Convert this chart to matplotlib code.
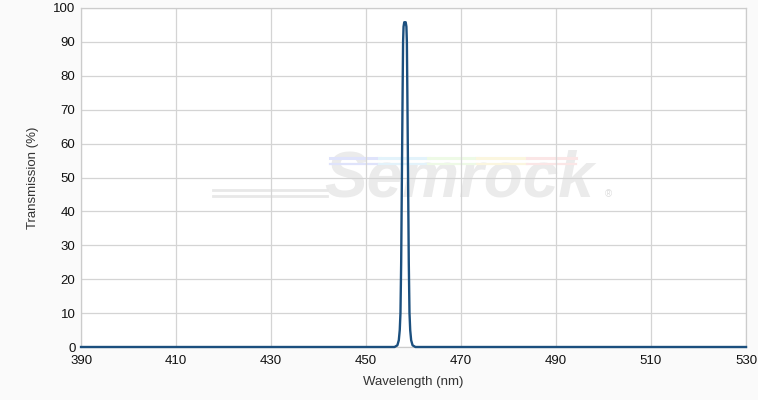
import matplotlib
matplotlib.use("Agg")
import matplotlib.pyplot as plt

plt.rcParams['font.family'] = ['Liberation Sans', 'DejaVu Sans']

# Transmission spectrum
wavelength = [390, 456.0, 456.6, 456.9, 457.1, 457.25, 457.4, 457.55, 457.7, 457.8, 457.9,
              458.05, 458.35, 458.5, 458.6, 458.7, 458.85, 459.0, 459.15, 459.3, 459.5,
              459.8, 460.4, 530]
transmission = [0, 0, 0.5, 2, 5, 10, 25, 50, 75, 90, 94.5,
                95.8, 95.8, 94.5, 90, 75, 50, 25, 10, 5, 2,
                0.5, 0, 0]

x_ticks = [390, 410, 430, 450, 470, 490, 510, 530]
y_ticks = [0, 10, 20, 30, 40, 50, 60, 70, 80, 90, 100]

fig = plt.figure(figsize=(7.58, 4.0), dpi=100)
fig.patch.set_facecolor('#fafafa')
ax = fig.add_axes([0.1069, 0.1325, 0.8773, 0.8475])
ax.set_facecolor('white')

# faint watermark
ax.text(0.568, 0.494, 'Semrock', transform=ax.transAxes, fontsize=46,
        fontweight='bold', style='italic', color='#ebebeb', ha='center',
        va='center', zorder=0)
ax.text(0.793, 0.45, '®', transform=ax.transAxes, fontsize=7,
        color='#dddddd', ha='center', va='center', zorder=0)
ax.plot([0.198, 0.37], [0.463, 0.463], transform=ax.transAxes, color='#e8e8e8', lw=2, zorder=0)
ax.plot([0.198, 0.37], [0.445, 0.445], transform=ax.transAxes, color='#e8e8e8', lw=2, zorder=0)
rainbow = ['#dfe3fb', '#e3f3fb', '#eefae6', '#fbf6df', '#fbe6e6']
for i, c in enumerate(rainbow):
    x0 = 0.374 + i * 0.074
    ax.plot([x0, x0 + 0.074], [0.557, 0.557], transform=ax.transAxes, color=c, lw=2.2, zorder=0)
    ax.plot([x0, x0 + 0.074], [0.541, 0.541], transform=ax.transAxes, color=c, lw=1.6, zorder=0)

ax.plot(wavelength, transmission, color='#1b4f7e', lw=1.7, zorder=3, clip_on=False)

ax.set_xlim(390, 530)
ax.set_ylim(0, 100)
ax.set_xticks(x_ticks)
ax.set_yticks(y_ticks)
ax.grid(True, color='#d4d4d4', lw=0.9)
ax.set_axisbelow(True)
for s in ax.spines.values():
    s.set_color('#cccccc')
    s.set_linewidth(0.9)
ax.tick_params(length=0, labelsize=9.5, labelcolor='#111111')
ax.tick_params(axis='x', pad=6)
ax.tick_params(axis='y', pad=4)

ax.set_xlabel('Wavelength (nm)', fontsize=9.5, color='#333333', labelpad=6)
ax.set_ylabel('Transmission (%)', fontsize=9.5, color='#333333', labelpad=10)

fig.savefig('out.png', dpi=100, facecolor=fig.get_facecolor())
plt.close(fig)
